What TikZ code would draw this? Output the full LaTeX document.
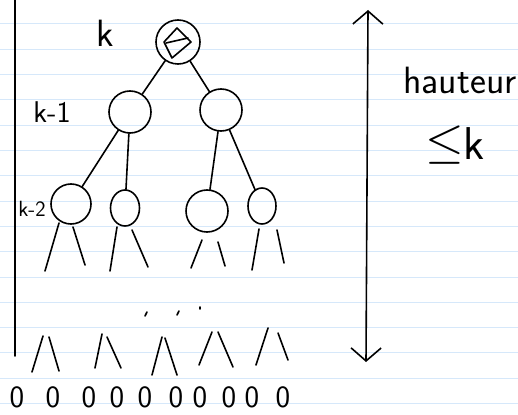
\documentclass[tikz,border=0pt]{standalone}
\usepackage{graphicx}
\usetikzlibrary{shapes.geometric,arrows.meta}
\begin{document}
\begin{tikzpicture}[x=1pt,y=-1pt,
  ink/.style={line width=1.6pt,line cap=round,line join=round},
  treenode/.style={ink,draw,circle,inner sep=0pt},
  ovalnode/.style={ink,draw,ellipse,inner sep=0pt},
  paper/.style={draw={rgb,255:red,214;green,232;blue,250},line width=1pt},
  hand/.style={font=\sffamily\fontsize{30}{30}\selectfont,inner sep=0pt},
  leaf/.style={font=\sffamily\fontsize{31}{31}\selectfont,inner sep=0pt},
  dimarrow/.style={ink,{Straight Barb[length=13pt,width=30pt,line width=1.6pt]}-{Straight Barb[length=13pt,width=30pt,line width=1.6pt]}}]
\fill[white] (0,0) rectangle (518,414);
\useasboundingbox (0,0) rectangle (518,414);
\foreach \i in {0,...,15} \draw[paper] (0,{24+25.3*\i}) -- (518,{24+25.3*\i});

% left line
\coordinate (lt) at (15,0);
\coordinate (lb) at (15,356);
\draw[ink] (lt) -- (lb);

% root
\node[treenode,minimum size=44pt] (root) at (178,42) {};
\draw[ink] (164,42) -- (177,28) -- (191,42) -- (172,58) -- cycle;
\draw[ink] (166,43) -- (188,38);

% level k-1
\node[treenode,minimum size=42pt] (a) at (130,112) {};
\node[treenode,minimum size=42pt] (b) at (221,110) {};
\draw[ink] (root) -- (a);
\draw[ink] (root) -- (b);

% level k-2
\node[treenode,minimum size=40pt] (c1) at (71,204) {};
\node[ovalnode,minimum width=29pt,minimum height=36pt] (c2) at (125,208) {};
\node[treenode,minimum size=42pt] (c3) at (207,211) {};
\node[ovalnode,minimum width=28pt,minimum height=36pt] (c4) at (262,206) {};
\draw[ink] (a) -- (c1);
\draw[ink] (a) -- (c2);
\draw[ink] (b) -- (c3);
\draw[ink] (b) -- (c4);

% labels
\node[hand,font=\sffamily\fontsize{38}{38}\selectfont] (lk) at (105,33) {k};
\node[hand] (lk1) at (52,112) {k-1};
\node[hand,font=\sffamily\fontsize{22}{22}\selectfont] (lk2) at (32,209) {k-2};

% legs under k-2 nodes
\draw[ink] (45,271) -- (59,223);
\draw[ink] (73,227) -- (85,265);
\draw[ink] (110,271) -- (117,227);
\draw[ink] (132,230) -- (148,267);
\draw[ink] (191,268) -- (202,240);
\draw[ink] (218,242) -- (225,266);
\draw[ink] (252,270) -- (259,229);
\draw[ink] (277,230) -- (284,263);

% dots
\draw[ink] (147,312) -- (145,316);
\draw[ink] (179,311) -- (177,315);
\draw[ink] (200,307) -- (200,309);

% bottom legs
\draw[ink] (32,372) -- (43,336);
\draw[ink] (49,337) -- (59,371);
\draw[ink] (95,368) -- (102,334);
\draw[ink] (107,337) -- (121,368);
\draw[ink] (152,375) -- (162,337);
\draw[ink] (165,338) -- (177,375);
\draw[ink] (199,365) -- (212,332);
\draw[ink] (218,332) -- (233,367);
\draw[ink] (256,365) -- (268,328);
\draw[ink] (278,333) -- (288,360);

% leaves
\foreach \x/\n in {17/1,53/2,89/3,117/4,145/5,176/6,200/7,229/8,252/9,283/10}
  \node[leaf] (z\n) at (\x,397) {0};

% height arrow
\coordinate (at) at (368,10);
\coordinate (ab) at (366,362);
\draw[dimarrow] (at) -- (ab);
\node[hand,font=\sffamily\fontsize{38}{38}\selectfont] (h) at (460,80) {hauteur};
\node[hand,font=\sffamily\fontsize{46}{46}\selectfont] (le) at (455,145) {\raisebox{2pt}{\scalebox{2}{$\leq$}}k};
\end{tikzpicture}
\end{document}
